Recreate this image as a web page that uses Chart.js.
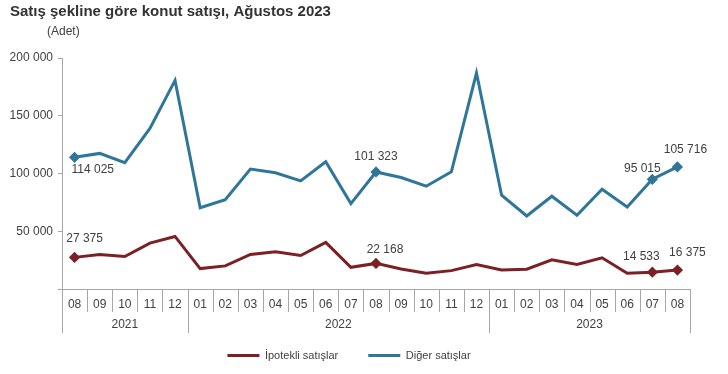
<!DOCTYPE html>
<html lang="tr">
<head>
<meta charset="utf-8">
<title>Satış şekline göre konut satışı, Ağustos 2023</title>
<script src="https://cdn.jsdelivr.net/npm/chart.js@4.4.0/dist/chart.umd.min.js"></script>
<style>
  html, body { margin: 0; padding: 0; background: #fff; }
  #wrap { position: relative; width: 728px; height: 374px; }
</style>
</head>
<body>
<div id="wrap"><canvas id="chart" width="728" height="374"></canvas></div>
<script>
'use strict';

const months = ['08', '09', '10', '11', '12',
  '01', '02', '03', '04', '05', '06', '07', '08', '09', '10', '11', '12',
  '01', '02', '03', '04', '05', '06', '07', '08'];
const years = ['2021', '2021', '2021', '2021', '2021',
  '2022', '2022', '2022', '2022', '2022', '2022', '2022', '2022', '2022', '2022', '2022', '2022',
  '2023', '2023', '2023', '2023', '2023', '2023', '2023', '2023'];

const ipotekli = [27375, 29900, 28100, 39700, 45500,
  17700, 20000, 29900, 32200, 29000, 40300, 18800, 22168, 17400, 13600, 15900, 21200,
  16500, 17100, 25200, 21200, 27000, 13600, 14533, 16375];
const diger = [114025, 117400, 109300, 139000, 180600,
  70400, 77400, 103800, 100600, 93600, 110200, 73900, 101323, 96500, 89000, 101500, 187000,
  81200, 63200, 80300, 63800, 86400, 71000, 95015, 105716];

const yTicks = [0, 50000, 100000, 150000, 200000];
const labelled = [0, 12, 23, 24];

const textColor = '#404040';
const lineGrey = '#a6a6a6';
const fontFamily = '"Liberation Sans", Arial, sans-serif';

function fmt(v) {
  return String(v).replace(/\B(?=(\d{3})+(?!\d))/g, ' ');
}

function pointRadius(i) {
  return labelled.includes(i) ? 3.5 : 0;
}

// offsets of the value labels from their point (dx, dy, align)
const labelPos = {
  0: [[10, -19, 'center'], [-3, 12, 'left']],
  12: [[9, -14, 'center'], [0, -15, 'center']],
  23: [[-11, -16, 'center'], [-10, -11, 'center']],
  24: [[10, -17, 'center'], [8, -17, 'center']],
};

const valueLabels = {
  id: 'valueLabels',
  afterDatasetsDraw(chart) {
    const ctx = chart.ctx;
    ctx.save();
    ctx.font = '12px ' + fontFamily;
    ctx.fillStyle = textColor;
    ctx.textBaseline = 'middle';
    chart.data.datasets.forEach((ds, d) => {
      const meta = chart.getDatasetMeta(d);
      labelled.forEach(i => {
        const p = meta.data[i];
        const [dx, dy, align] = labelPos[i][d];
        ctx.textAlign = align;
        ctx.fillText(fmt(ds.data[i]), p.x + dx, p.y + dy);
      });
    });
    ctx.restore();
  }
};

// two level category axis: months, then years
const groupedAxis = {
  id: 'groupedAxis',
  afterDraw(chart) {
    const ctx = chart.ctx;
    const x = chart.scales.x;
    const bottom = chart.chartArea.bottom;
    const step = x.getPixelForValue(1) - x.getPixelForValue(0);
    ctx.save();
    ctx.strokeStyle = lineGrey;
    ctx.lineWidth = 1;
    ctx.fillStyle = textColor;
    ctx.font = '12px ' + fontFamily;
    ctx.textAlign = 'center';
    ctx.textBaseline = 'middle';
    let groupStart = 0;
    for (let i = 0; i < months.length; i++) {
      const cx = x.getPixelForValue(i);
      ctx.fillText(months[i], cx, bottom + 16);
      const left = Math.round(cx - step / 2) + 0.5;
      const newGroup = i === 0 || years[i] !== years[i - 1];
      ctx.beginPath();
      ctx.moveTo(left, bottom);
      ctx.lineTo(left, bottom + (newGroup ? 44 : 23));
      ctx.stroke();
      if (i === months.length - 1 || years[i + 1] !== years[i]) {
        const right = Math.round(cx + step / 2) + 0.5;
        ctx.beginPath();
        ctx.moveTo(right, bottom);
        ctx.lineTo(right, bottom + 44);
        ctx.stroke();
        const mid = (x.getPixelForValue(groupStart) + cx) / 2;
        ctx.fillText(years[i], mid, bottom + 36);
        groupStart = i + 1;
      }
    }
    ctx.restore();
  }
};

const titles = {
  id: 'titles',
  afterDraw(chart) {
    const ctx = chart.ctx;
    ctx.save();
    ctx.fillStyle = '#333';
    ctx.textBaseline = 'middle';
    ctx.textAlign = 'left';
    ctx.font = 'bold 15px ' + fontFamily;
    ctx.fillText('Satış şekline göre konut satışı, Ağustos 2023', 10, 12);
    ctx.font = '12px ' + fontFamily;
    ctx.fillStyle = textColor;
    ctx.fillText('(Adet)', 47, 32);
    ctx.restore();
  }
};

new Chart(document.getElementById('chart'), {
  type: 'line',
  data: {
    labels: months,
    datasets: [
      {
        label: 'İpotekli satışlar',
        data: ipotekli,
        borderColor: '#7b2024',
        backgroundColor: '#7b2024',
        borderWidth: 3,
        pointStyle: 'rectRot',
        pointRadius: ctx => pointRadius(ctx.dataIndex),
        tension: 0,
      },
      {
        label: 'Diğer satışlar',
        data: diger,
        borderColor: '#2f7698',
        backgroundColor: '#2f7698',
        borderWidth: 3,
        pointStyle: 'rectRot',
        pointRadius: ctx => pointRadius(ctx.dataIndex),
        tension: 0,
      },
    ],
  },
  options: {
    responsive: false,
    animation: false,
    layout: { padding: { left: 8, right: 38, top: 58, bottom: 3 } },
    plugins: {
      tooltip: { enabled: false },
      legend: {
        position: 'bottom',
        labels: {
          usePointStyle: true,
          pointStyle: 'line',
          pointStyleWidth: 32,
          boxHeight: 3,
          padding: 30,
          color: textColor,
          font: { family: fontFamily, size: 11 },
        },
      },
    },
    scales: {
      x: {
        type: 'category',
        offset: true,
        grid: { display: false },
        border: { color: lineGrey },
        ticks: { display: false },
        afterFit(scale) { scale.height = 31; },
      },
      y: {
        min: 0,
        max: 200000,
        afterBuildTicks(scale) { scale.ticks = yTicks.map(v => ({ value: v })); },
        grid: { drawOnChartArea: false, tickLength: 4, color: lineGrey },
        border: { color: lineGrey },
        ticks: {
          padding: 5,
          color: textColor,
          font: { family: fontFamily, size: 12 },
          callback: v => (v === 0 ? '' : fmt(v)),
        },
        afterFit(scale) { scale.width = 54; },
      },
    },
  },
  plugins: [valueLabels, groupedAxis, titles],
});
</script>
</body>
</html>
